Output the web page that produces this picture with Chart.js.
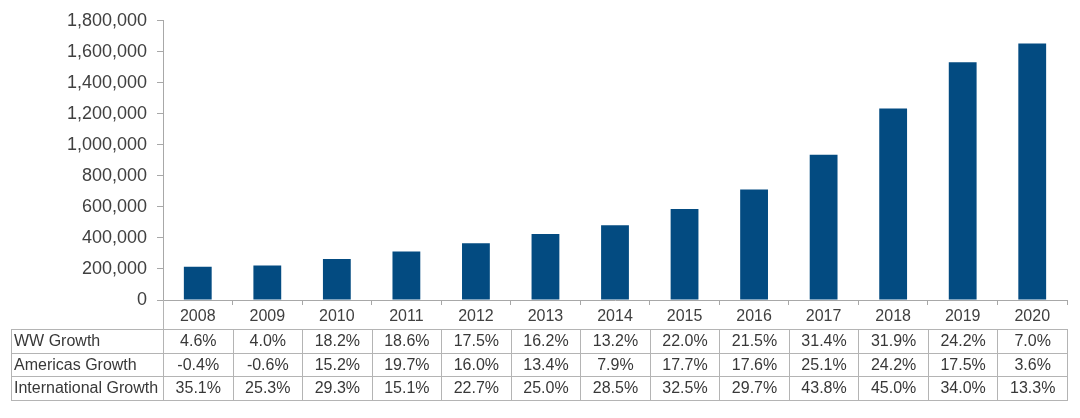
<!DOCTYPE html>
<html lang="en">
<head>
<meta charset="UTF-8">
<title>Revenue and growth 2008-2020</title>
<script src="https://cdn.jsdelivr.net/npm/chart.js"></script>
<style>
  html,body{margin:0;padding:0;background:#fff}
  body{width:1080px;height:418px;position:relative;overflow:hidden;font-family:"Liberation Sans",Arial,sans-serif}
  #wrap{position:absolute;left:0;top:0;width:1080px;height:327px}
  #growth{position:absolute;left:11px;top:329px;border-collapse:collapse;table-layout:fixed;width:1057px;color:#383838;font-size:16px}
  #growth td{border:1px solid #b4b4b4;height:22.5px;padding:0;text-align:center;white-space:nowrap;line-height:20px}
  #growth td.lbl{text-align:left;padding-left:2px}
  /* label column edge running up to the axis */
  #edge{position:absolute;left:163px;top:300px;width:0;height:30px;border-left:1px solid #b4b4b4}
</style>
</head>
<body>
<div id="wrap"><canvas id="chart"></canvas></div>
<div id="edge"></div>
<table id="growth"></table>

<script>
// chart data
const years=['2008','2009','2010','2011','2012','2013','2014','2015','2016','2017','2018','2019','2020'];
const revenue=[214000,223000,265000,313000,366000,426000,482000,587000,713000,936000,1234000,1532000,1654000];

// growth table rows
const rowLabels=['WW Growth','Americas Growth','International Growth'];
const wwGrowth=['4.6%','4.0%','18.2%','18.6%','17.5%','16.2%','13.2%','22.0%','21.5%','31.4%','31.9%','24.2%','7.0%'];
const americasGrowth=['-0.4%','-0.6%','15.2%','19.7%','16.0%','13.4%','7.9%','17.7%','17.6%','25.1%','24.2%','17.5%','3.6%'];
const intlGrowth=['35.1%','25.3%','29.3%','15.1%','22.7%','25.0%','28.5%','32.5%','29.7%','43.8%','45.0%','34.0%','13.3%'];

const axisColor='#a8a8a8';
const textColor='#404040';

Chart.defaults.font.family='"Liberation Sans", Arial, sans-serif';

new Chart(document.getElementById('chart'),{
  type:'bar',
  data:{
    labels:years,
    datasets:[{
      data:revenue,
      backgroundColor:'#034b81',
      categoryPercentage:1,
      barPercentage:0.4
    }]
  },
  options:{
    responsive:true,
    maintainAspectRatio:false,
    animation:false,
    layout:{padding:{top:19,right:13,left:0,bottom:0}},
    plugins:{legend:{display:false},tooltip:{enabled:false}},
    scales:{
      x:{
        grid:{display:true,drawOnChartArea:false,color:axisColor,tickLength:5},
        border:{color:axisColor},
        ticks:{color:textColor,font:{size:16},padding:2,maxRotation:0},
        afterFit:s=>{s.height=27;}
      },
      y:{
        min:0,max:1800000,
        grid:{display:true,drawOnChartArea:false,color:axisColor,tickLength:6},
        border:{color:axisColor},
        ticks:{stepSize:200000,color:textColor,font:{size:18},padding:10,
          callback:v=>v.toLocaleString('en-US')},
        afterFit:s=>{s.width=163;}
      }
    }
  }
});

// table below the axis
const table=document.getElementById('growth');
const cg=document.createElement('colgroup');
const c0=document.createElement('col');c0.style.width='152px';cg.appendChild(c0);
years.forEach(()=>{const c=document.createElement('col');c.style.width=(904/13)+'px';cg.appendChild(c);});
table.appendChild(cg);
[wwGrowth,americasGrowth,intlGrowth].forEach((vals,i)=>{
  const tr=document.createElement('tr');
  const th=document.createElement('td');
  th.className='lbl';
  th.textContent=rowLabels[i];
  tr.appendChild(th);
  vals.forEach(v=>{
    const td=document.createElement('td');
    td.textContent=v;
    tr.appendChild(td);
  });
  table.appendChild(tr);
});
</script>
</body>
</html>
